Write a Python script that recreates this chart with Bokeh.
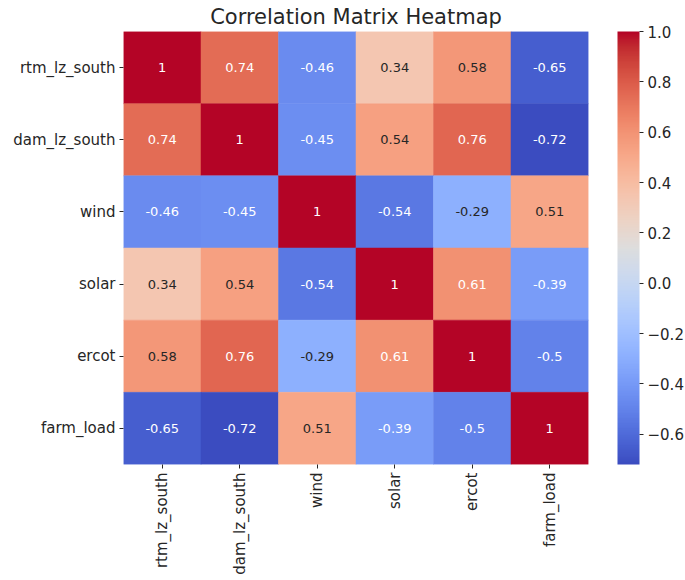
import math
from bokeh.plotting import figure
from bokeh.models import (ColumnDataSource, LinearColorMapper, ColorBar,
                          FixedTicker, FactorRange)
from bokeh.transform import transform
from bokeh.embed import file_html
from bokeh.resources import INLINE
from bokeh.core.properties import value

# ---------------- data ----------------
names = ["rtm_lz_south", "dam_lz_south", "wind", "solar", "ercot", "farm_load"]
row_rtm = [1.00, 0.74, -0.46, 0.34, 0.58, -0.65]
row_dam = [0.74, 1.00, -0.45, 0.54, 0.76, -0.72]
row_wind = [-0.46, -0.45, 1.00, -0.54, -0.29, 0.51]
row_solar = [0.34, 0.54, -0.54, 1.00, 0.61, -0.39]
row_ercot = [0.58, 0.76, -0.29, 0.61, 1.00, -0.50]
row_farm = [-0.65, -0.72, 0.51, -0.39, -0.50, 1.00]
rows = [row_rtm, row_dam, row_wind, row_solar, row_ercot, row_farm]

cbar_ticks = [-0.6, -0.4, -0.2, 0.0, 0.2, 0.4, 0.6, 0.8, 1.0]
cbar_labels = ["\u22120.6", "\u22120.4", "\u22120.2", "0.0", "0.2", "0.4", "0.6", "0.8", "1.0"]

# ---------------- coolwarm palette (style) ----------------
cw = [(59,76,192),(68,90,204),(77,104,215),(87,117,225),(98,130,234),(108,142,241),
      (119,154,247),(130,165,251),(141,176,254),(152,185,255),(163,194,255),(174,201,253),
      (184,208,249),(194,213,244),(204,217,238),(213,219,230),(221,221,221),(229,216,209),
      (236,211,197),(241,204,185),(245,196,173),(247,187,160),(247,177,148),(247,166,135),
      (244,154,123),(241,141,111),(236,127,99),(229,112,88),(222,96,77),(213,80,66),
      (203,62,56),(192,40,47),(180,4,38)]

def cw_at(t):
    t = min(max(t, 0.0), 1.0) * (len(cw) - 1)
    i = min(int(t), len(cw) - 2)
    f = t - i
    a, b = cw[i], cw[i + 1]
    return tuple(a[k] + (b[k] - a[k]) * f for k in range(3))

palette = []
for i in range(256):
    r, g, b = cw_at(i / 255)
    palette.append("#%02x%02x%02x" % (round(r), round(g), round(b)))

vmin = min(min(r) for r in rows)
vmax = max(max(r) for r in rows)

def lum(rgb):
    out = []
    for c in rgb:
        c = c / 255
        out.append(c / 12.92 if c <= 0.03928 else ((c + 0.055) / 1.055) ** 2.4)
    return 0.2126 * out[0] + 0.7152 * out[1] + 0.0722 * out[2]

xs, ys, vs, labels, tcols = [], [], [], [], []
for ri, rname in enumerate(names):
    for ci, cname in enumerate(names):
        v = rows[ri][ci]
        xs.append(cname)
        ys.append(rname)
        vs.append(v)
        labels.append("{:g}".format(v))
        idx = min(int((v - vmin) / (vmax - vmin) * 256), 255)
        h = palette[idx]
        rgb = (int(h[1:3], 16), int(h[3:5], 16), int(h[5:7], 16))
        tcols.append("#262626" if lum(rgb) > 0.408 else "#ffffff")

src = ColumnDataSource(dict(x=xs, y=ys, v=vs, label=labels, tc=tcols))
mapper = LinearColorMapper(palette=palette, low=vmin, high=vmax)

FONT = "DejaVu Sans"
TXT = "#262626"

p = figure(x_range=FactorRange(*names), y_range=FactorRange(*reversed(names)),
           frame_width=465, frame_height=433,
           min_border_left=123, min_border_top=0, min_border_bottom=0, min_border_right=0,
           output_backend="svg", toolbar_location=None,
           title="Correlation Matrix Heatmap")
p.outline_line_color = None
p.grid.grid_line_color = None

p.rect(x="x", y="y", width=1, height=1, source=src,
       fill_color=transform("v", mapper), line_color=transform("v", mapper), line_width=0.5)
p.text(x="x", y="y", text="label", source=src, text_align="center",
       text_baseline="middle", text_color="tc", text_font=value(FONT),
       text_font_size=value("13px"))

p.title.align = "center"
p.title.text_font = FONT
p.title.text_font_size = "21px"
p.title.text_font_style = "normal"
p.title.text_color = TXT
p.title.standoff = 5

for ax in (p.xaxis[0], p.yaxis[0]):
    ax.axis_line_color = None
    ax.major_tick_line_color = TXT
    ax.major_tick_out = 4
    ax.major_tick_in = 0
    ax.minor_tick_line_color = None
    ax.major_label_text_font = FONT
    ax.major_label_text_font_size = "15px"
    ax.major_label_text_color = TXT
    ax.major_label_standoff = 4
p.xaxis.major_label_orientation = math.pi / 2

cb = ColorBar(color_mapper=mapper, width=22, height=433, padding=0, margin=0,
              location=(29, 0),
              ticker=FixedTicker(ticks=cbar_ticks),
              major_label_overrides={t: l for t, l in zip(cbar_ticks, cbar_labels)},
              major_label_text_font=FONT, major_label_text_font_size="15px",
              major_label_text_color=TXT,
              major_tick_line_color=TXT, major_tick_in=0, major_tick_out=4,
              minor_tick_line_color=None, bar_line_color=None,
              border_line_color=None, background_fill_color=None,
              label_standoff=4)
p.add_layout(cb, "right")

open("out.html", "w").write(file_html(p, INLINE))
